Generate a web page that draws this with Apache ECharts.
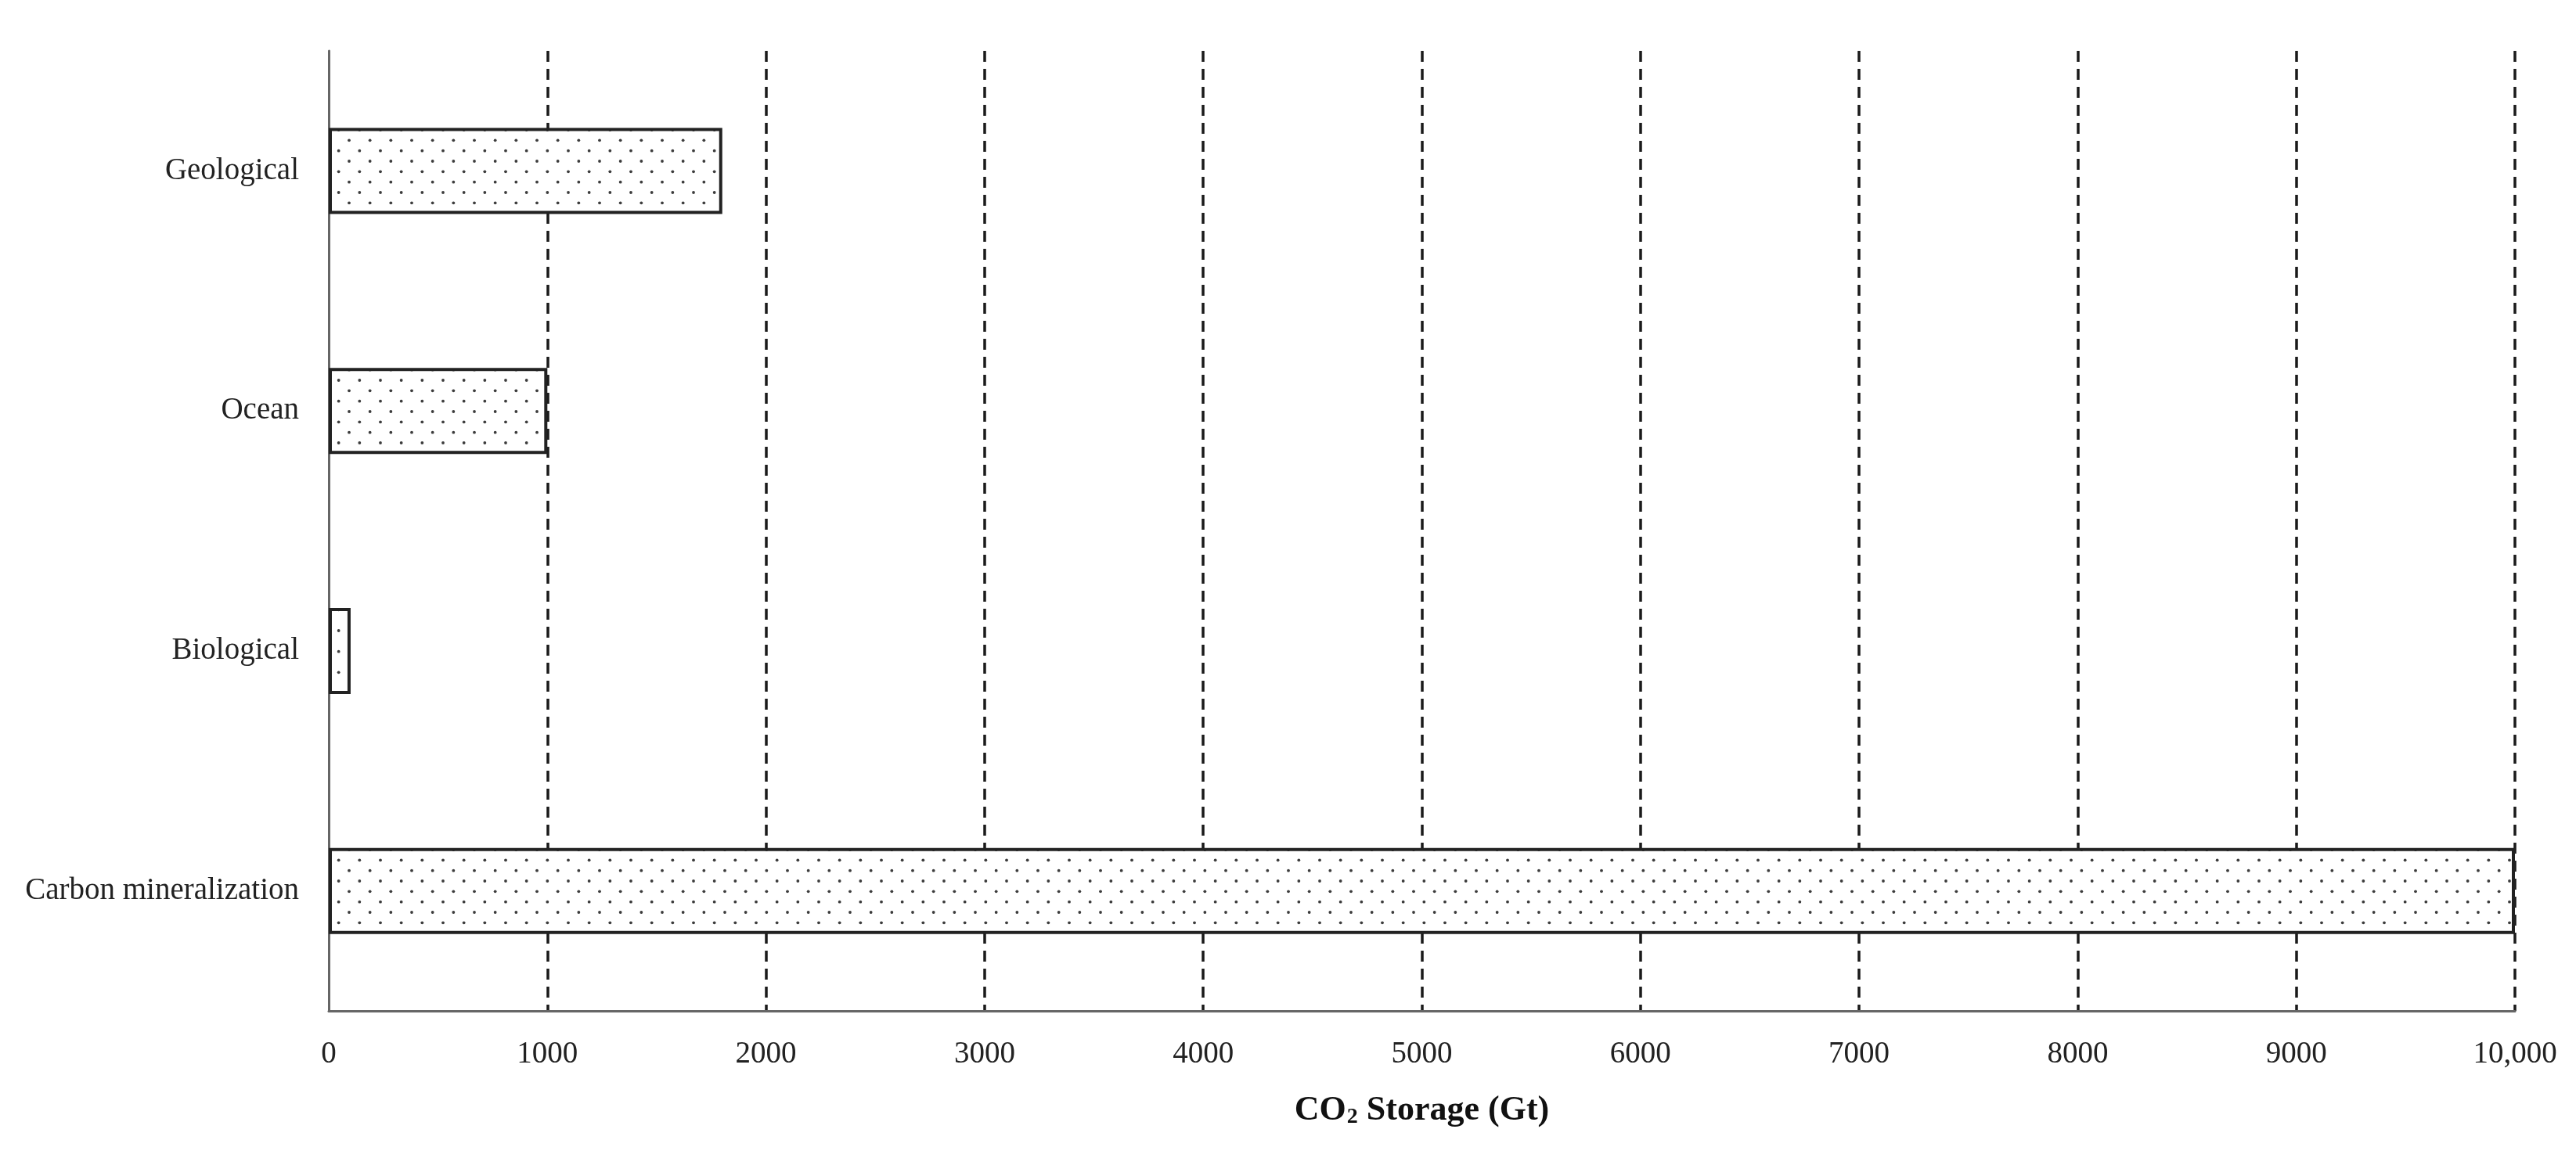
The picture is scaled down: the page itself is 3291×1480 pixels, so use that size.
<!DOCTYPE html>
<html>
<head>
<meta charset="utf-8">
<script src="https://cdn.jsdelivr.net/npm/echarts@6/dist/echarts.min.js"></script>
<style>
html,body{margin:0;padding:0;background:#fff;}
#chart{width:3291px;height:1480px;}
</style>
</head>
<body>
<div id="chart"></div>
<script>
const categories = ['Geological', 'Ocean', 'Biological', 'Carbon mineralization'];
const storageValues = [1800, 1000, 100, 10000];
const xTickLabels = {10000: '10,000'};

// dotted fill pattern
function makePattern() {
  const c = document.createElement('canvas');
  c.width = 80; c.height = 80;
  const ctx = c.getContext('2d');
  ctx.fillStyle = '#ffffff';
  ctx.fillRect(0, 0, 80, 80);
  ctx.fillStyle = '#3c3c3c';
  const dx = 80 / 3, dy = 80 / 6;
  for (let r = 0; r < 6; r++) {
    const off = (r % 2) ? dx / 2 : 0;
    for (let i = -1; i < 4; i++) {
      const x = off + i * dx + 6, y = r * dy + 6;
      ctx.beginPath();
      ctx.arc(x, y, 1.9, 0, Math.PI * 2);
      ctx.fill();
    }
  }
  return c;
}

const chart = echarts.init(document.getElementById('chart'), null, {renderer: 'canvas'});
const font = 'Liberation Serif';
chart.setOption({
  backgroundColor: '#ffffff',
  animation: false,
  grid: {left: 420, right: 78, top: 65, bottom: 188, containLabel: false},
  xAxis: {
    type: 'value',
    min: 0, max: 10000, interval: 1000,
    axisLine: {show: true, lineStyle: {color: '#666', width: 3}},
    axisTick: {show: false},
    splitLine: {show: true, showMinLine: false, lineStyle: {color: '#1a1a1a', width: 3.5, type: [14, 9]}},
    axisLabel: {
      fontFamily: font, fontSize: 39, color: '#222', margin: 36,
      formatter: v => (xTickLabels[v] !== undefined ? xTickLabels[v] : String(v))
    },
    name: '{a|CO}{s|2}{a| Storage (Gt)}',
    nameLocation: 'middle',
    nameGap: 100,
    nameTextStyle: {
      rich: {
        a: {fontFamily: font, fontSize: 44, fontWeight: 'bold', color: '#111', lineHeight: 50, verticalAlign: 'bottom'},
        s: {fontFamily: font, fontSize: 28, fontWeight: 'bold', color: '#111', lineHeight: 12, verticalAlign: 'bottom', padding: [0, 0, 0, 1]}
      }
    }
  },
  yAxis: {
    type: 'category',
    data: categories,
    inverse: true,
    axisLine: {show: true, lineStyle: {color: '#666', width: 3}},
    axisTick: {show: false},
    splitLine: {show: false},
    axisLabel: {fontFamily: font, fontSize: 39, color: '#222', margin: 38}
  },
  series: [{
    type: 'bar',
    data: storageValues,
    barWidth: 110,
    itemStyle: {
      color: {image: makePattern(), repeat: 'repeat'},
      borderColor: '#222',
      borderWidth: 4
    },
    z: 3
  }]
});
</script>
</body>
</html>
